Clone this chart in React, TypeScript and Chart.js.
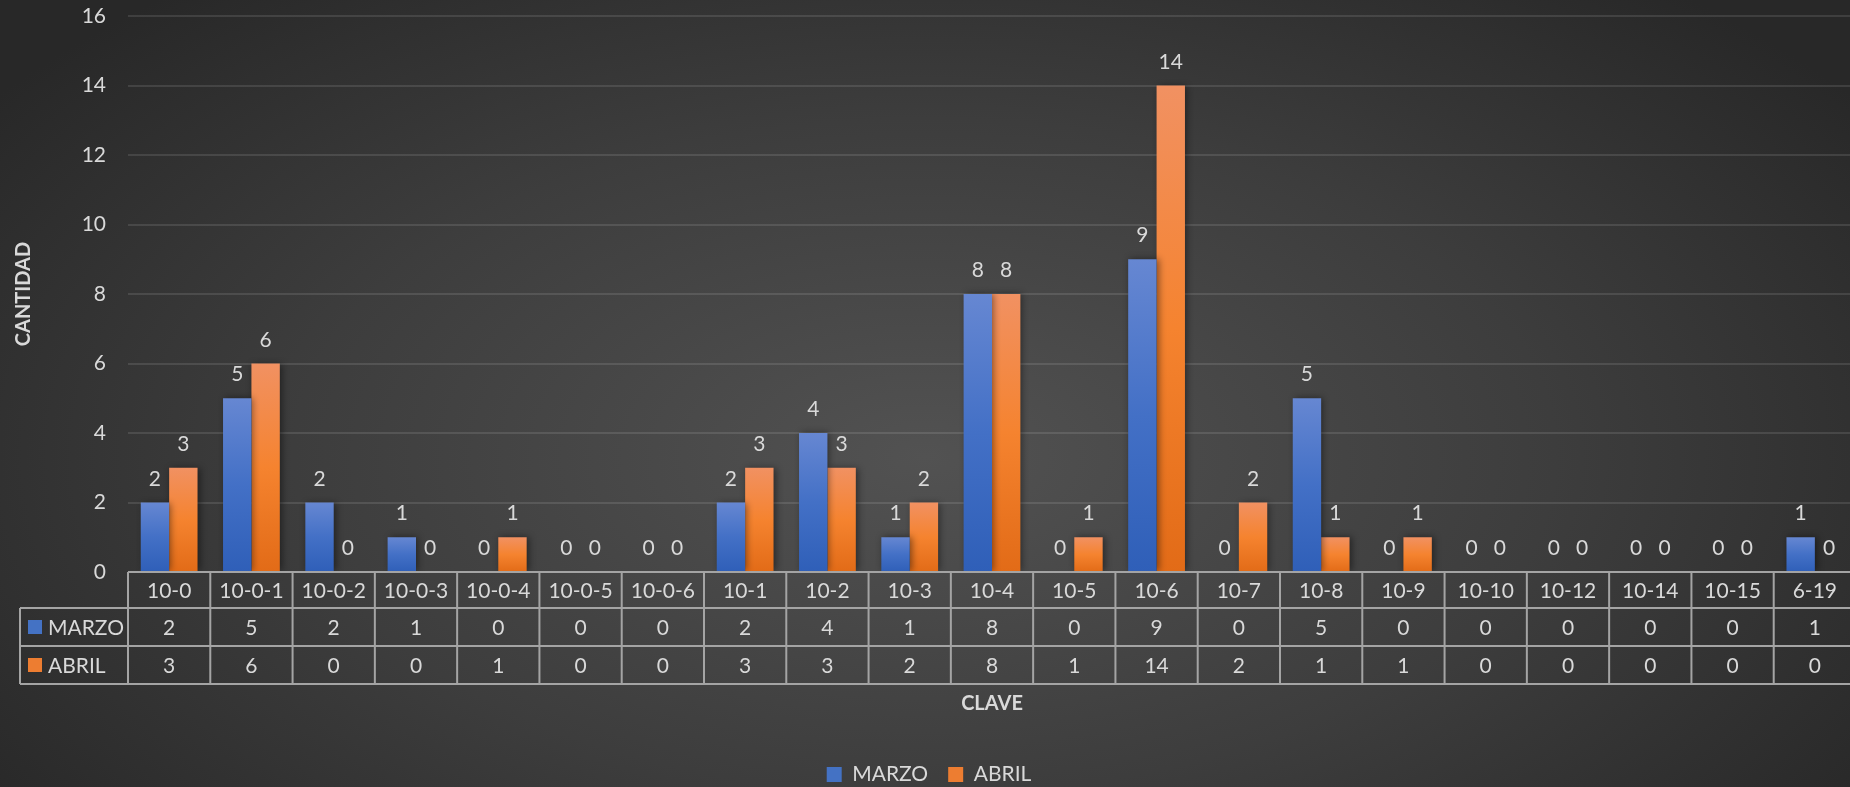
import { useEffect, useRef } from 'react';
import { Chart, registerables } from 'chart.js';

Chart.register(...registerables);

// ---- data ----
const CATEGORIES = [
  '10-0', '10-0-1', '10-0-2', '10-0-3', '10-0-4', '10-0-5', '10-0-6', '10-1', '10-2', '10-3',
  '10-4', '10-5', '10-6', '10-7', '10-8', '10-9', '10-10', '10-12', '10-14', '10-15', '6-19',
];
const MARZO = [2, 5, 2, 1, 0, 0, 0, 2, 4, 1, 8, 0, 9, 0, 5, 0, 0, 0, 0, 0, 1];
const ABRIL = [3, 6, 0, 0, 1, 0, 0, 3, 3, 2, 8, 1, 14, 2, 1, 1, 0, 0, 0, 0, 0];
const SERIES_NAMES = ['MARZO', 'ABRIL'];
const Y_MIN = 0;
const Y_MAX = 16;
const Y_STEP = 2;
const X_TITLE = 'CLAVE';
const Y_TITLE = 'CANTIDAD';

// ---- style ----
const W = 1860;
const H = 795;
const FONT = 'Lato, "Open Sans", "Noto Sans", sans-serif';
const FS = 21;
const TEXT = '#d9d9d9';
const KEY_COLORS = ['#4472c4', '#ed7d31'];
const BLUE_STOPS = ['#6687d2', '#4370c6', '#2f5fb8'];
const ORANGE_STOPS = ['#f19162', '#f5832f', '#e26b17'];

function barGradient(stops: string[]) {
  return (ctx: any) => {
    const chart = ctx.chart;
    const y = chart.scales && chart.scales.y;
    if (ctx.type !== 'data' || !y || !chart.chartArea) return stops[1];
    const v = ctx.raw as number;
    const top = y.getPixelForValue(v);
    const base = y.getPixelForValue(0);
    if (!(base - top > 0.5)) return stops[1];
    const g = chart.ctx.createLinearGradient(0, top, 0, base);
    g.addColorStop(0, stops[0]);
    g.addColorStop(0.5, stops[1]);
    g.addColorStop(1, stops[2]);
    return g;
  };
}

const barDecor = {
  id: 'barDecor',
  beforeDatasetsDraw(chart: any) {
    const ctx = chart.ctx;
    ctx.save();
    ctx.shadowColor = 'rgba(0,0,0,0.45)';
    ctx.shadowBlur = 7;
    ctx.shadowOffsetX = 2;
    ctx.shadowOffsetY = 0;
  },
  afterDatasetsDraw(chart: any) {
    const ctx = chart.ctx;
    ctx.restore();
    ctx.save();
    ctx.font = `${FS}px ${FONT}`;
    ctx.fillStyle = TEXT;
    ctx.textAlign = 'center';
    ctx.textBaseline = 'alphabetic';
    chart.data.datasets.forEach((ds: any, di: number) => {
      const meta = chart.getDatasetMeta(di);
      meta.data.forEach((el: any, i: number) => {
        const p = el.getProps(['x', 'y'], true);
        ctx.fillText(String(ds.data[i]), p.x, p.y - 17);
      });
    });
    ctx.restore();
  },
};

const dataTable = {
  id: 'dataTable',
  afterDraw(chart: any) {
    const { ctx, chartArea } = chart;
    const x = chart.scales.x;
    const n = CATEGORIES.length;
    const left = chartArea.left;
    const right = chartArea.right;
    const step = (right - left) / n;
    const top = chartArea.bottom;
    const r1 = top + 36;
    const r2 = r1 + 38;
    const r3 = r2 + 38;
    const labelLeft = 20;

    ctx.save();
    ctx.strokeStyle = '#a4a4a4';
    ctx.lineWidth = 2;
    ctx.beginPath();
    ctx.moveTo(left, top);
    ctx.lineTo(right, top);
    [r1, r2, r3].forEach((yy) => {
      ctx.moveTo(labelLeft, yy);
      ctx.lineTo(right, yy);
    });
    for (let i = 0; i <= n; i++) {
      const xx = i < n ? x.getPixelForValue(i) - step / 2 : right;
      ctx.moveTo(xx, top);
      ctx.lineTo(xx, r3);
    }
    ctx.moveTo(labelLeft, r1);
    ctx.lineTo(labelLeft, r3);
    ctx.stroke();

    ctx.font = `${FS}px ${FONT}`;
    ctx.fillStyle = TEXT;
    ctx.textAlign = 'center';
    ctx.textBaseline = 'middle';
    const rows = [MARZO, ABRIL];
    for (let i = 0; i < n; i++) {
      const cx = x.getPixelForValue(i);
      ctx.fillText(CATEGORIES[i], cx, (top + r1) / 2 + 1);
      ctx.fillText(String(rows[0][i]), cx, (r1 + r2) / 2 + 1);
      ctx.fillText(String(rows[1][i]), cx, (r2 + r3) / 2 + 1);
    }
    const rowY = [(r1 + r2) / 2, (r2 + r3) / 2];
    ctx.textAlign = 'left';
    SERIES_NAMES.forEach((name, k) => {
      ctx.fillStyle = KEY_COLORS[k];
      ctx.fillRect(28, rowY[k] - 7, 14, 14);
      ctx.fillStyle = TEXT;
      ctx.fillText(name, 48, rowY[k] + 1);
    });
    ctx.restore();
  },
};

export default function App() {
  const ref = useRef<HTMLCanvasElement | null>(null);

  useEffect(() => {
    if (!ref.current) return;
    Chart.defaults.font.family = FONT;
    const chart = new Chart(ref.current, {
      type: 'bar',
      data: {
        labels: CATEGORIES,
        datasets: [
          {
            label: SERIES_NAMES[0],
            data: MARZO,
            backgroundColor: barGradient(BLUE_STOPS),
            borderWidth: 0,
            categoryPercentage: 0.69,
            barPercentage: 1,
          },
          {
            label: SERIES_NAMES[1],
            data: ABRIL,
            backgroundColor: barGradient(ORANGE_STOPS),
            borderWidth: 0,
            categoryPercentage: 0.69,
            barPercentage: 1,
          },
        ],
      },
      options: {
        responsive: false,
        animation: false,
        devicePixelRatio: 1,
        layout: { padding: { left: 2, right: 4, top: 16, bottom: 0 } },
        plugins: {
          tooltip: { enabled: false },
          legend: {
            position: 'bottom',
            labels: {
              color: TEXT,
              font: { size: FS, family: FONT },
              boxWidth: 15,
              boxHeight: 15,
              padding: 20,
              generateLabels: () =>
                SERIES_NAMES.map((name, i) => ({
                  text: name,
                  fillStyle: KEY_COLORS[i],
                  strokeStyle: KEY_COLORS[i],
                  lineWidth: 0,
                  hidden: false,
                  datasetIndex: i,
                  fontColor: TEXT,
                })),
            },
          },
        },
        scales: {
          x: {
            ticks: { display: false },
            grid: { display: false, drawTicks: false },
            border: { display: false },
            title: {
              display: true,
              text: X_TITLE,
              color: TEXT,
              font: { size: 20, weight: 'bold', family: FONT },
              padding: { top: 0, bottom: 28 },
            },
            afterFit: (s: any) => {
              s.height = 172;
            },
          },
          y: {
            min: Y_MIN,
            max: Y_MAX,
            ticks: { stepSize: Y_STEP, color: TEXT, font: { size: FS, family: FONT }, padding: 2 },
            grid: {
              color: 'rgba(255,255,255,0.11)',
              lineWidth: 2,
              drawTicks: true,
              tickLength: 20,
              tickColor: 'rgba(0,0,0,0)',
            },
            border: { display: false },
            title: {
              display: true,
              text: Y_TITLE,
              color: TEXT,
              font: { size: 20, weight: 'bold', family: FONT },
              padding: { top: 10, bottom: 0 },
            },
            afterFit: (s: any) => {
              s.width = 126;
            },
          },
        },
      } as any,
      plugins: [barDecor, dataTable],
    });
    return () => chart.destroy();
  }, []);

  return (
    <div
      style={{
        position: 'fixed',
        left: 0,
        top: 0,
        width: 1850,
        height: 787,
        overflow: 'hidden',
        background: 'radial-gradient(ellipse 62% 78% at 50% 58%, #525252 0%, #3d3d3d 55%, #282828 100%)',
      }}
    >
      <canvas ref={ref} width={W} height={H} style={{ display: 'block', width: W, height: H }} />
    </div>
  );
}
